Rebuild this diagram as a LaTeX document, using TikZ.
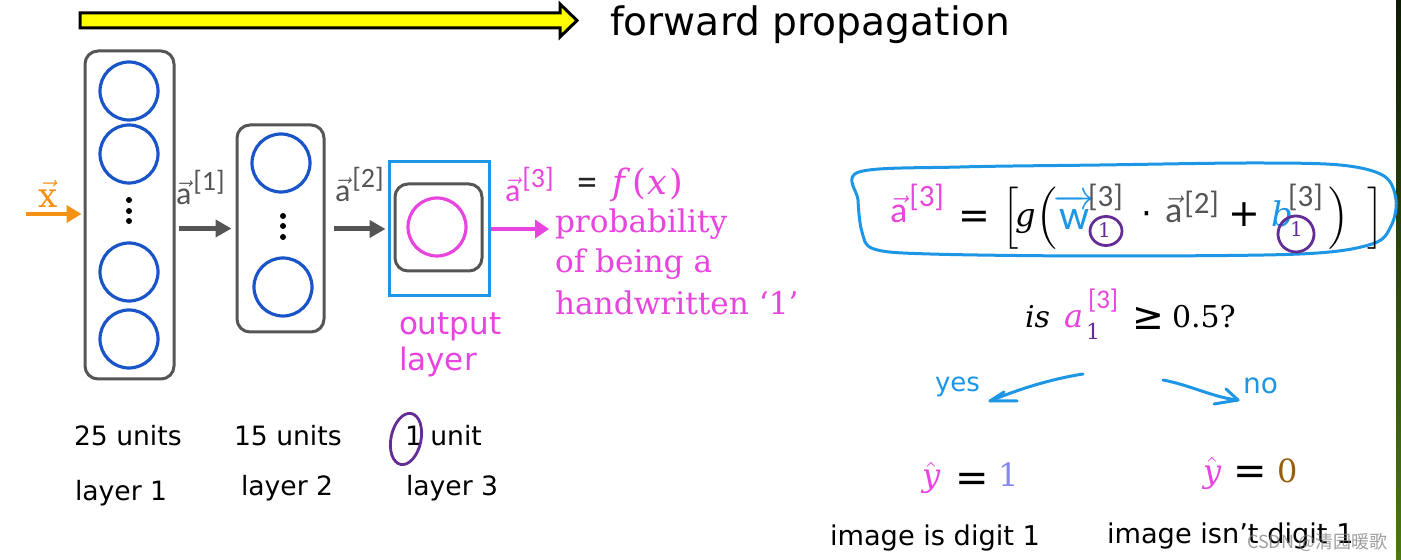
\RequirePackage{fix-cm}
\documentclass[tikz,border=0pt]{standalone}
\usepackage{amsmath}
\usepackage{fontspec}
\usetikzlibrary{arrows.meta,shapes.geometric,calc}
\newfontfamily\dv{DejaVu Sans}
\newfontfamily\dvs{DejaVu Serif}
\newfontfamily\carl{Carlito}
\newfontfamily\cjk{Noto Sans CJK SC}
\definecolor{pk}{RGB}{232,68,222}
\definecolor{nblue}{RGB}{25,85,200}
\definecolor{lblue}{RGB}{30,150,230}
\definecolor{dgray}{RGB}{85,85,85}
\definecolor{purp}{RGB}{100,45,150}
\definecolor{orng}{RGB}{245,145,20}
\definecolor{lpurp}{RGB}{135,135,240}
\definecolor{brwn}{RGB}{150,95,15}
\definecolor{yel}{RGB}{255,255,0}
\definecolor{gtop}{RGB}{15,28,5}
\definecolor{gbot}{RGB}{75,120,20}
\newcommand\fs[1]{\fontsize{#1}{#1}\selectfont}
\newcommand\va[1]{$\vec{\hbox{#1}}$}
\tikzset{
  lbox/.style={draw=dgray, line width=1.5pt, rounded corners=6.5pt, inner sep=0pt},
  neuron/.style={circle, draw=nblue, line width=1.6pt, minimum size=29pt, inner sep=0pt},
  ndot/.style={circle, fill=black, minimum size=3pt, inner sep=0pt},
  garrow/.style={draw=dgray, line width=2.5pt, -{Triangle[length=8pt,width=8.5pt]}},
  oarrow/.style={draw=orng, line width=2pt, -{Triangle[length=7.5pt,width=8.5pt]}},
  parrow/.style={draw=pk, line width=2pt, -{Triangle[length=7pt,width=9pt]}},
  txt/.style={anchor=base west, inner sep=0pt, outer sep=0pt},
  hand/.style={draw=lblue, line width=1.5pt, line cap=round, line join=round},
  pcirc/.style={draw=purp, line width=1.4pt, line cap=round},
}
\begin{document}
\begin{tikzpicture}[x=0.5pt,y=-0.5pt]
\useasboundingbox (0,0) rectangle (1401,560);
\fill[white] (0,0) rectangle (1401,560);
\shade[top color=gtop, bottom color=gbot] (1396,0) rectangle (1401,560);

% forward propagation arrow
\filldraw[fill=yel, draw=black, line width=1.5pt, line join=miter]
  (80,13) -- (560,13) -- (560,4) -- (577,20.5) -- (560,37) -- (560,28) -- (80,28) -- cycle;
\node[txt] (fp) at (610,36) {\dv\fs{19.6}forward propagation};

% layer 1
\node[lbox, minimum width=44.5pt, minimum height=164pt] (L1) at (129.5,215) {};
\node[neuron] (n11) at (129,91) {};
\node[neuron] (n12) at (129,154) {};
\node[neuron] (n13) at (129,272) {};
\node[neuron] (n14) at (129,339) {};
\node[ndot] (d11) at (129,200) {};
\node[ndot] (d12) at (129,211) {};
\node[ndot] (d13) at (129,221) {};

% layer 2
\node[lbox, minimum width=43.5pt, minimum height=103.5pt] (L2) at (280.5,228.5) {};
\node[neuron] (n21) at (281,163) {};
\node[neuron] (n22) at (283,287) {};
\node[ndot] (d21) at (283,216) {};
\node[ndot] (d22) at (283,226) {};
\node[ndot] (d23) at (283,237) {};

% output layer
\node[draw=lblue, line width=1.5pt, minimum width=50pt, minimum height=67pt, inner sep=0pt] (OB) at (439,229) {};
\node[lbox, minimum width=43.5pt, minimum height=43.5pt] (IB) at (438.5,227.5) {};
\node[neuron, draw=pk] (n31) at (437,227) {};

% input
\node[txt, text=orng] (xl) at (38,208) {\fs{17}$\vec{\hbox{\dvs x}}$};
\coordinate (xin) at (26,214);
\draw[oarrow, shorten >=1pt] (xin) -- (L1.west |- xin);

% connectors
\draw[garrow, shorten <=1.5pt, shorten >=2pt] (L1.east |- L2.west) -- (L2.west);
\draw[garrow, shorten <=4pt, shorten >=1pt] (L2.east |- OB.west) -- (OB.west);
\coordinate (pend) at (549,229);
\draw[parrow] (OB.east) -- (pend);

% activation labels
\node[txt, text=dgray] (a1) at (176,205) {\carl\fs{16}\va{a}\kern1pt\raisebox{7pt}{\fs{14}[1]}};
\node[txt, text=dgray] (a2) at (335,202) {\carl\fs{16}\va{a}\kern1pt\raisebox{7pt}{\fs{14}[2]}};
\node[txt, text=pk] (a3) at (505,202) {\carl\fs{16}\va{a}\kern1pt\raisebox{7pt}{\fs{14}[3]}};
\node[txt, text=black!85] (a3eq) at (577,196) {\carl\fs{20}=};
\node[txt, text=pk] (fx) at (612,195) {\dvs\fs{17.5}\textit{f}\kern1.2pt(\kern0.8pt\textit{x}\kern1.2pt)};

\node[txt, text=pk] (pr1) at (555,233) {\dvs\fs{15.6}probability};
\node[txt, text=pk] (pr2) at (555,273) {\dvs\fs{15.6}of being a};
\node[txt, text=pk] (pr3) at (555,315) {\dvs\fs{15.6}handwritten ‘1’};

\node[txt, text=pk] (ol1) at (399,335) {\dv\fs{15.5}output};
\node[txt, text=pk] (ol2) at (399,371) {\dv\fs{15.5}layer};

% bottom labels
\node[txt] (u25) at (74,445) {\dv\fs{13.3}25 units};
\node[txt] (u15) at (234,445) {\dv\fs{13.3}15 units};
\node[txt] (u1) at (405,445) {\dv\fs{13.3}1 unit};
\node[txt] (ly1) at (75,500) {\dv\fs{13.3}layer 1};
\node[txt] (ly2) at (241,495) {\dv\fs{13.3}layer 2};
\node[txt] (ly3) at (406,495) {\dv\fs{13.3}layer 3};
\node[pcirc, ellipse, minimum width=15pt, minimum height=26pt, rotate=-12, inner sep=0pt] (c1u) at (406,439) {};

% right formula
\draw[hand] plot[smooth cycle, tension=0.55] coordinates {
 (859,172) (960,167) (1100,165) (1250,163) (1340,165) (1384,176) (1396,200)
 (1391,226) (1372,244) (1300,254) (1100,256) (930,254) (874,249) (862,232) (858,200)};
\node[txt, text=pk] (fa3) at (890,223) {\carl\fs{18}\va{a}\kern1pt\raisebox{8pt}{\fs{15.5}[3]}};
\node[txt] (feq) at (958,229) {\dv\fs{19}=};
\node[txt] (fbl) at (1002,227) {\fs{17}$\Big[$};
\node[txt] (fg) at (1015,227) {\dvs\itshape\fs{16}g};
\node[txt] (fpl) at (1036,227) {\fs{17}$\Big($};
\node[txt, text=lblue] (fw) at (1053,230) {\carl\fs{21}$\overrightarrow{\hbox{w}}$};
\node[txt, text=dgray] (fw3) at (1088,207) {\carl\fs{15.5}[3]};
\node[txt, text=purp] (fs1) at (1098,238) {\dvs\fs{10}1};
\node[pcirc, ellipse, minimum width=16pt, minimum height=14.5pt, inner sep=0pt] (cw) at (1106,231) {};
\node[txt] (fcd) at (1141,226) {\dv\fs{17}·};
\node[txt, text=dgray] (fa2) at (1165,223) {\carl\fs{18}\va{a}\kern1pt\raisebox{4.5pt}{\fs{15.5}[2]}};
\node[txt] (fplus) at (1228,227) {\dv\fs{19}+};
\node[txt, text=lblue] (fb) at (1271,227) {\dvs\itshape\fs{17}b};
\node[txt, text=dgray] (fb3) at (1288,207) {\carl\fs{15.5}[3]};
\node[txt, text=purp] (fs2) at (1290,237) {\dvs\fs{10}1};
\node[pcirc, ellipse, minimum width=18pt, minimum height=18pt, rotate=15, inner sep=0pt] (cb) at (1296,234) {};
\node[txt] (fpr) at (1328,227) {\fs{17}$\Big)$};
\node[txt] (fbr) at (1367,227) {\fs{17}$\Big]$};

% decision
\node[txt] (isq) at (1025,328) {\dvs\itshape\fs{15}is};
\node[txt, text=pk] (isa) at (1064,328) {\dvs\itshape\fs{16}a};
\node[txt, text=pk] (isup) at (1088,309) {\carl\fs{13.5}[3]};
\node[txt, text=purp] (isub) at (1086,340) {\dvs\fs{11}1};
\node[txt] (isge) at (1132,330) {\dv\fs{19}≥};
\node[txt] (isn) at (1172,328) {\dvs\fs{15}0.5?};

\node[txt, text=lblue] (yes) at (935,392) {\dv\fs{13}yes};
\node[txt, text=lblue] (no) at (1243,394) {\dv\fs{14}no};
\coordinate (ys) at (1083,374);
\coordinate (yt) at (990,401);
\draw[hand] (ys) .. controls (1045,380) and (1012,392) .. (yt);
\draw[hand] (1004,392) -- (yt) -- (1017,401);
\coordinate (ns) at (1163,380);
\coordinate (nt) at (1238,400);
\draw[hand] (ns) .. controls (1190,385) and (1215,398) .. (nt);
\draw[hand] (1226,389) -- (nt) -- (1214,404);

\node[txt, text=pk] (y1h) at (922,487) {\dvs\itshape\fs{16}$\hat{\hbox{y}}$};
\node[txt] (y1e) at (955,491) {\dv\fs{20}=};
\node[txt, text=lpurp] (y1n) at (998,487) {\dvs\fs{16}1};
\node[txt, text=pk] (y0h) at (1203,482) {\dvs\itshape\fs{16}$\hat{\hbox{y}}$};
\node[txt] (y0e) at (1233,484) {\dv\fs{20}=};
\node[txt, text=brwn] (y0n) at (1277,482) {\dvs\fs{16}0};
\node[txt] (d1) at (830,545) {\dv\fs{13.6}image is digit 1};
\node[txt] (d0) at (1107,543) {\dv\fs{13.6}image isn’t digit 1};
\node[txt, text=gray, opacity=0.75] (wm) at (1247,548) {\cjk\fs{9}CSDN @清园暖歌};
\end{tikzpicture}
\end{document}
